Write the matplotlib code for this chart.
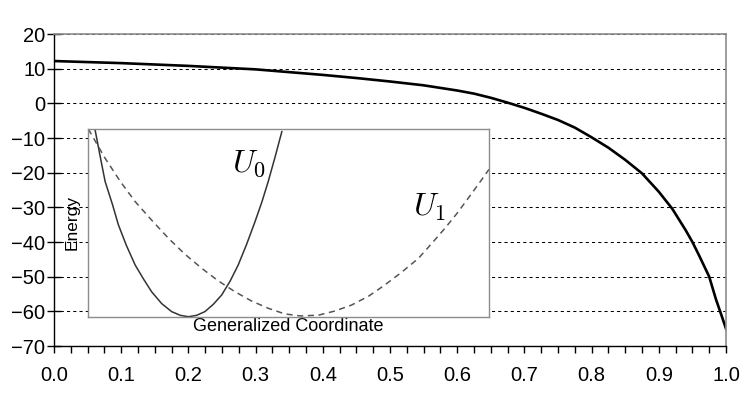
import numpy as np
import matplotlib
matplotlib.use("Agg")
import matplotlib.pyplot as plt
from matplotlib.ticker import MultipleLocator

plt.rcParams["font.family"] = ["Liberation Sans", "DejaVu Sans"]
plt.rcParams["mathtext.fontset"] = "cm"

# ---- main curve ----
x_main = [0.0, 0.05, 0.1, 0.15, 0.2, 0.25, 0.3, 0.35, 0.4, 0.45, 0.5, 0.55,
          0.6, 0.625, 0.65, 0.675, 0.7, 0.725, 0.75, 0.775, 0.8, 0.825, 0.85,
          0.875, 0.9, 0.92, 0.94, 0.95, 0.96, 0.975, 0.985, 0.993, 1.0]
y_main = [12.2, 11.9, 11.6, 11.2, 10.8, 10.3, 9.8, 9.0, 8.2, 7.3, 6.3, 5.2,
          3.7, 2.8, 1.6, 0.2, -1.3, -3.0, -4.8, -7.0, -9.8, -12.8, -16.3,
          -20.2, -25.5, -30.4, -36.6, -40.0, -43.9, -50.0, -56.5, -61.0, -65.0]
y_ticks = [20, 10, 0, -10, -20, -30, -40, -50, -60, -70]
x_ticks = [0.0, 0.1, 0.2, 0.3, 0.4, 0.5, 0.6, 0.7, 0.8, 0.9, 1.0]

# ---- inset sketch: two potential curves ----
u0_x = [0.017, 0.03, 0.042, 0.06, 0.075, 0.095, 0.117, 0.138, 0.158, 0.183, 0.208, 0.23, 0.25,
        0.27, 0.291, 0.312, 0.333, 0.354, 0.374, 0.395, 0.416, 0.433, 0.449, 0.466, 0.483]
u0_y = [0.995, 0.85, 0.72, 0.6, 0.49, 0.38, 0.275, 0.2, 0.133, 0.07, 0.027, 0.007, 0.0,
        0.007, 0.027, 0.066, 0.116, 0.19, 0.275, 0.385, 0.506, 0.61, 0.72, 0.85, 0.986]
u1_x = [0.0, 0.042, 0.08, 0.117, 0.16, 0.2, 0.24, 0.283, 0.325, 0.366, 0.408, 0.449, 0.49,
        0.53, 0.574, 0.615, 0.657, 0.7, 0.74, 0.782, 0.824, 0.857, 0.89, 0.92, 0.948, 0.975, 1.0]
u1_y = [1.0, 0.844, 0.72, 0.613, 0.51, 0.418, 0.335, 0.258, 0.19, 0.133, 0.083, 0.045, 0.015,
        0.004, 0.008, 0.03, 0.062, 0.11, 0.169, 0.237, 0.311, 0.39, 0.471, 0.55, 0.631, 0.71, 0.785]

fig = plt.figure(figsize=(7.49, 3.96), dpi=100)
W, H = 749, 396

ax = fig.add_axes([54 / W, 1 - 346 / H, 672 / W, 312 / H])
ax.plot(x_main, y_main, color="black", lw=1.9, solid_joinstyle="round")
ax.set_xlim(0, 1)
ax.set_ylim(-70, 20)
ax.set_yticks(y_ticks)
ax.set_yticklabels([str(v).replace("-", "\u2212") for v in y_ticks], fontsize=14.5)
ax.set_xticks(x_ticks)
ax.set_xticklabels([f"{v:.1f}" for v in x_ticks], fontsize=14.5)
ax.xaxis.set_minor_locator(MultipleLocator(0.025))
ax.tick_params(axis="x", which="both", direction="out", length=5, width=1, pad=9.5)
ax.tick_params(axis="y", direction="inout", length=9.5, width=1, pad=1.5)
ax.grid(axis="y", color="black", linestyle=(0, (3, 3)), linewidth=0.75)
for s in ["top", "right"]:
    ax.spines[s].set_color("#8c8c8c")
    ax.spines[s].set_linewidth(1.2)
for s in ["left", "bottom"]:
    ax.spines[s].set_color("black")
    ax.spines[s].set_linewidth(1)

# inset
ins = fig.add_axes([88.3 / W, 1 - 316.7 / H, 400.7 / W, 187.7 / H])
ins.plot(u0_x, u0_y, color="#333333", lw=1.1)
ins.plot(u1_x, u1_y, color="#555555", lw=1.1, linestyle=(0, (4, 3)))
ins.set_xlim(0, 1)
ins.set_ylim(0, 1)
ins.set_xticks([])
ins.set_yticks([])
for s in ins.spines.values():
    s.set_color("#8c8c8c")
    s.set_linewidth(1)
ins.set_xlabel("Generalized Coordinate", fontsize=13, labelpad=1)
ins.set_ylabel("Energy", fontsize=12.5, labelpad=6)
ins.text(0.358, 0.773, r"$U_0$", fontsize=23, transform=ins.transAxes)
ins.text(0.81, 0.54, r"$U_1$", fontsize=23, transform=ins.transAxes)

fig.savefig("out.png", dpi=100)
